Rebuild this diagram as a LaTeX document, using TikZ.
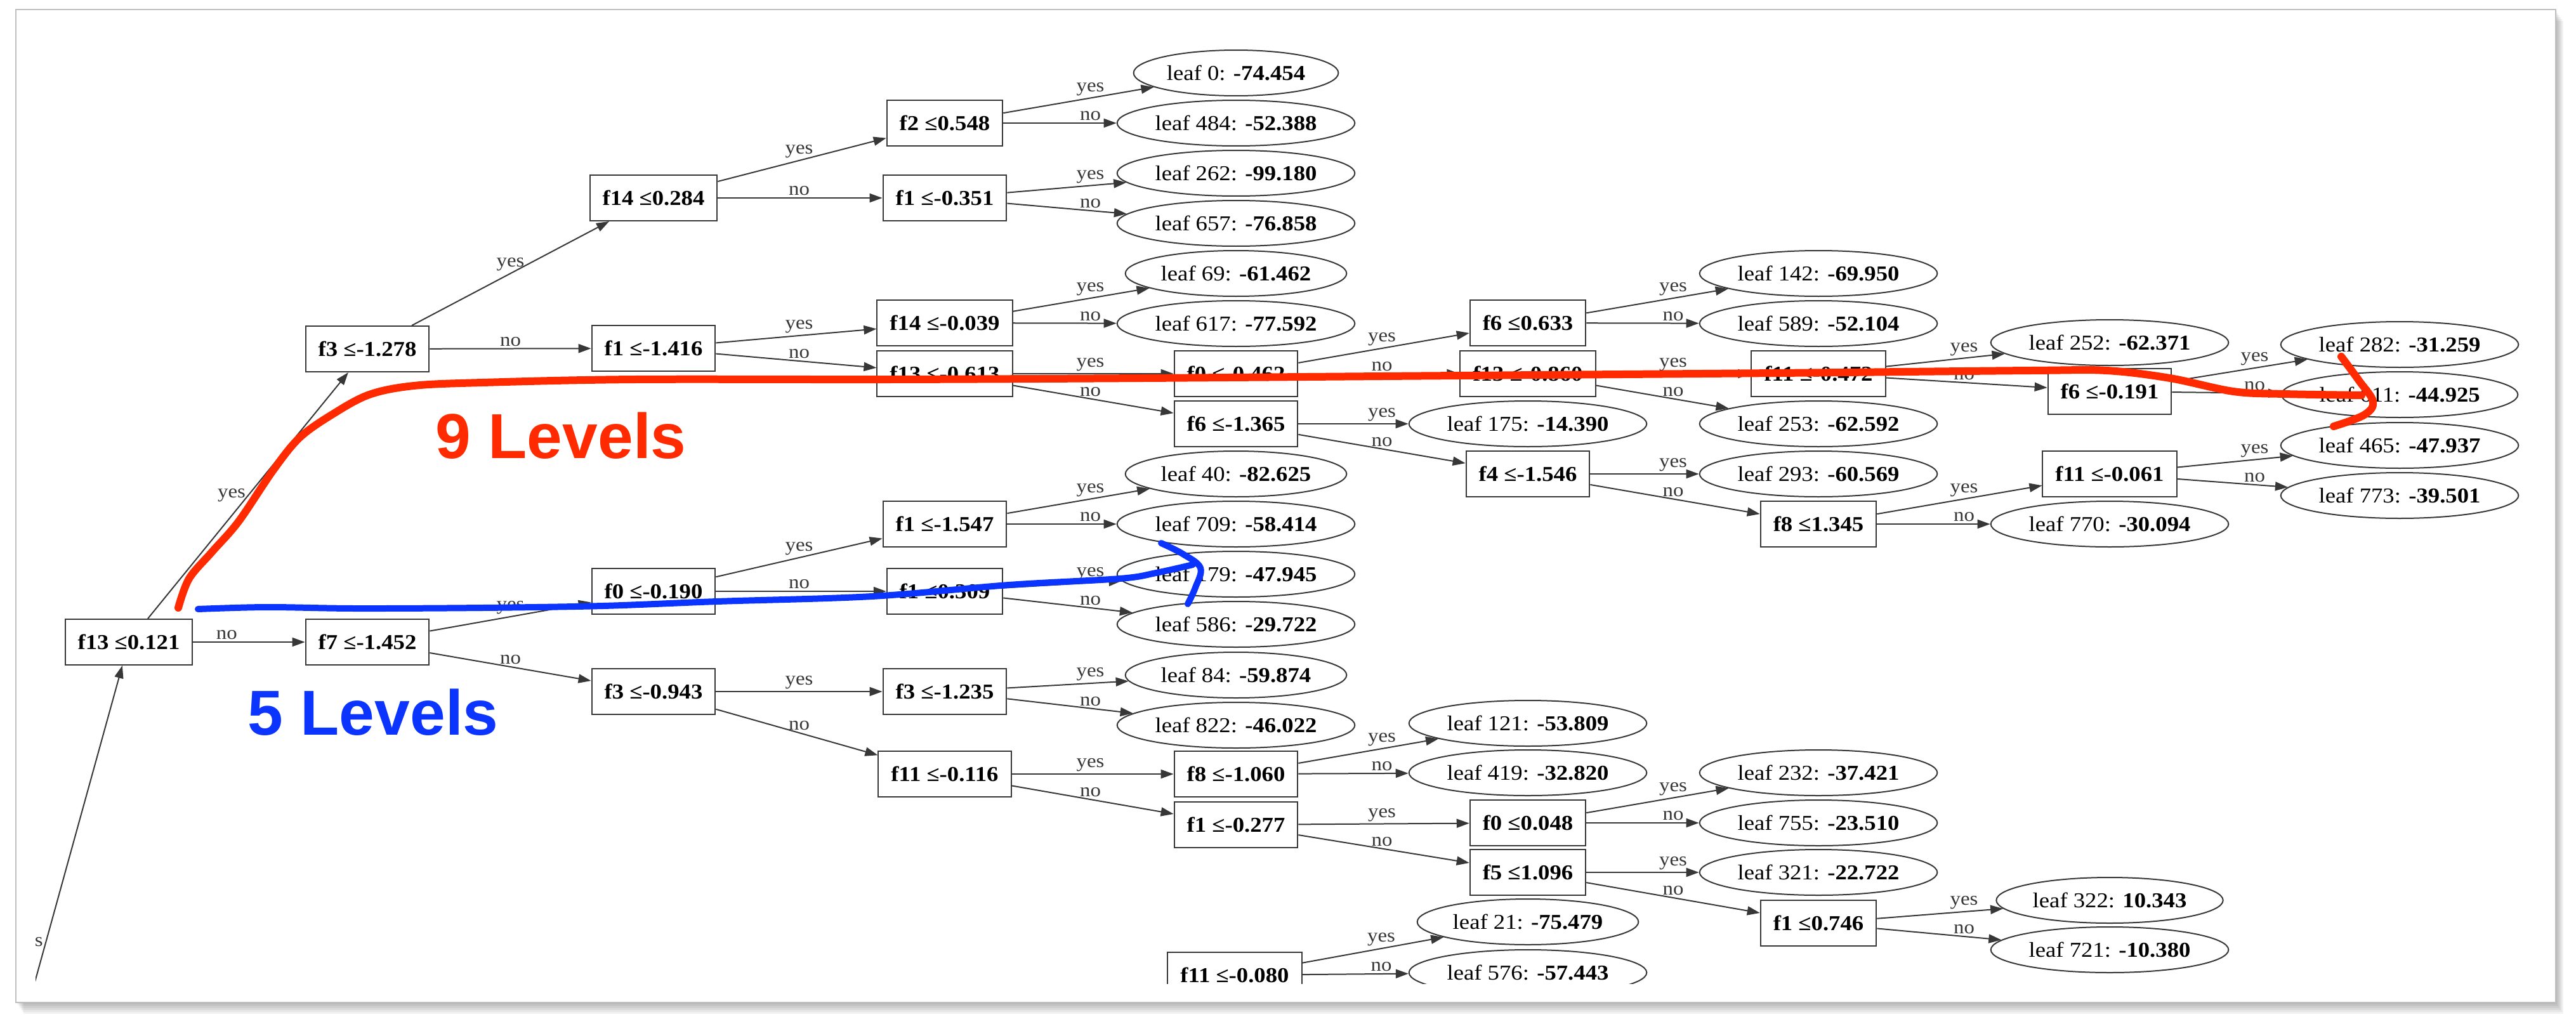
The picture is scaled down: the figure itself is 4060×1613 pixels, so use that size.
\documentclass[tikz,border=0pt]{standalone}
\usepackage{fontspec}
\setmainfont{Liberation Serif}
\newfontfamily\treefont[FakeStretch=1.1]{Liberation Serif}
\newfontfamily\notefont{Liberation Sans}
\usepackage{tikz}
\usetikzlibrary{shapes.geometric, arrows.meta, calc}
\definecolor{markred}{RGB}{255, 42, 0}
\definecolor{markblue}{RGB}{12, 52, 255}
\definecolor{treegray}{RGB}{55, 55, 55}
\newcommand{\leafval}[2]{leaf #1: \textbf{#2}}

\begin{document}
\begin{tikzpicture}[x=0.02cm, y=-0.02cm,
        decbox/.style={rectangle, draw=treegray, line width=0.04cm, minimum height=1.44cm, inner xsep=0.4cm, inner ysep=0pt, font=\treefont\fontsize{19}{21}\selectfont\bfseries},
        leafell/.style={ellipse, draw=treegray, line width=0.04cm, minimum height=1.44cm, inner xsep=0.1cm, inner ysep=0pt, font=\treefont\fontsize{19}{21}\selectfont},
        arr/.style={-{Triangle[length=0.4cm, width=0.28cm]}, line width=0.04cm, color=treegray},
        lbl/.style={font=\treefont\fontsize{17}{19}\selectfont, inner sep=0.06cm, text=treegray, anchor=south},
        marker/.style={line width=0.24cm, line cap=round, line join=round},
        levels/.style={anchor=base west, inner sep=0pt, font=\notefont\fontsize{57}{60}\selectfont\bfseries}
      ]
        \useasboundingbox (0,0) rectangle (4060,1613);
        % card with shadow
        \foreach \s in {1,...,6}
          \fill[black, opacity=0.05] (25+2*\s,15+3*\s) rectangle (4028+2*\s,1580+3*\s);
        \filldraw[fill=white, draw=black!25, line width=0.03cm] (25,15) rectangle (4028,1580);

        \begin{scope}
        \clip (56,20) rectangle (4015,1550);
        % split nodes
        \node[decbox] (root) at (203,1012) {f13 ≤0.121};
        \node[decbox] (f3a) at (579,550) {f3 ≤-1.278};
        \node[decbox] (f7a) at (579,1012) {f7 ≤-1.452};
        \node[decbox] (f14a) at (1030,312) {f14 ≤0.284};
        \node[decbox] (f1a) at (1030,549) {f1 ≤-1.416};
        \node[decbox] (f0a) at (1030,932) {f0 ≤-0.190};
        \node[decbox] (f3b) at (1030,1090) {f3 ≤-0.943};
        \node[decbox] (f2a) at (1489,194) {f2 ≤0.548};
        \node[decbox] (f1b) at (1489,312) {f1 ≤-0.351};
        \node[decbox] (f14b) at (1489,509) {f14 ≤-0.039};
        \node[decbox] (f13b) at (1489,589) {f13 ≤-0.613};
        \node[decbox] (f1c) at (1489,826) {f1 ≤-1.547};
        \node[decbox] (f1d) at (1489,932) {f1 ≤0.309};
        \node[decbox] (f3c) at (1489,1090) {f3 ≤-1.235};
        \node[decbox] (f11a) at (1489,1220) {f11 ≤-0.116};
        \node[decbox] (f0b) at (1948,589) {f0 ≤-0.462};
        \node[decbox] (f6a) at (1948,668) {f6 ≤-1.365};
        \node[decbox] (f8a) at (1948,1220) {f8 ≤-1.060};
        \node[decbox] (f1e) at (1948,1300) {f1 ≤-0.277};
        \node[decbox] (f11b) at (1946,1537) {f11 ≤-0.080};
        \node[decbox] (f6b) at (2408,509) {f6 ≤0.633};
        \node[decbox] (f13c) at (2408,589) {f13 ≤-0.860};
        \node[decbox] (f4a) at (2408,747) {f4 ≤-1.546};
        \node[decbox] (f0c) at (2408,1297) {f0 ≤0.048};
        \node[decbox] (f5a) at (2408,1375) {f5 ≤1.096};
        \node[decbox] (f11c) at (2866,589) {f11 ≤-0.472};
        \node[decbox] (f8b) at (2866,826) {f8 ≤1.345};
        \node[decbox] (f1f) at (2866,1455) {f1 ≤0.746};
        \node[decbox] (f6c) at (3325,617) {f6 ≤-0.191};
        \node[decbox] (f11d) at (3325,747) {f11 ≤-0.061};
        % leaves
        \node[leafell] (l0) at (1948,115) {\leafval{0}{-74.454}};
        \node[leafell] (l484) at (1948,194) {\leafval{484}{-52.388}};
        \node[leafell] (l262) at (1948,273) {\leafval{262}{-99.180}};
        \node[leafell] (l657) at (1948,352) {\leafval{657}{-76.858}};
        \node[leafell] (l69) at (1948,431) {\leafval{69}{-61.462}};
        \node[leafell] (l617) at (1948,510) {\leafval{617}{-77.592}};
        \node[leafell] (l40) at (1948,747) {\leafval{40}{-82.625}};
        \node[leafell] (l709) at (1948,826) {\leafval{709}{-58.414}};
        \node[leafell] (l179) at (1948,905) {\leafval{179}{-47.945}};
        \node[leafell] (l586) at (1948,984) {\leafval{586}{-29.722}};
        \node[leafell] (l84) at (1948,1064) {\leafval{84}{-59.874}};
        \node[leafell] (l822) at (1948,1143) {\leafval{822}{-46.022}};
        \node[leafell] (l175) at (2408,668) {\leafval{175}{-14.390}};
        \node[leafell] (l121) at (2408,1140) {\leafval{121}{-53.809}};
        \node[leafell] (l419) at (2408,1218) {\leafval{419}{-32.820}};
        \node[leafell] (l21) at (2408,1453) {\leafval{21}{-75.479}};
        \node[leafell] (l576) at (2408,1533) {\leafval{576}{-57.443}};
        \node[leafell] (l142) at (2866,431) {\leafval{142}{-69.950}};
        \node[leafell] (l589) at (2866,510) {\leafval{589}{-52.104}};
        \node[leafell] (l253) at (2866,668) {\leafval{253}{-62.592}};
        \node[leafell] (l293) at (2866,747) {\leafval{293}{-60.569}};
        \node[leafell] (l232) at (2866,1218) {\leafval{232}{-37.421}};
        \node[leafell] (l755) at (2866,1297) {\leafval{755}{-23.510}};
        \node[leafell] (l321) at (2866,1375) {\leafval{321}{-22.722}};
        \node[leafell] (l252) at (3325,540) {\leafval{252}{-62.371}};
        \node[leafell] (l770) at (3325,826) {\leafval{770}{-30.094}};
        \node[leafell] (l322) at (3325,1419) {\leafval{322}{10.343}};
        \node[leafell] (l721) at (3325,1497) {\leafval{721}{-10.380}};
        \node[leafell] (l282) at (3782,543) {\leafval{282}{-31.259}};
        \node[leafell] (l611) at (3782,622) {\leafval{611}{-44.925}};
        \node[leafell] (l465) at (3782,702) {\leafval{465}{-47.937}};
        \node[leafell] (l773) at (3782,781) {\leafval{773}{-39.501}};
        % edges, labels sit halfway between the node centres
        \coordinate (rootin) at (51,1562);
        \draw[arr] (rootin) -- node[lbl, pos=0.145, anchor=east] {yes} (root);
        \draw[arr] (root) -- node[lbl, anchor=east, pos=0.5] {yes} (f3a);
        \draw[arr] (root) -- node[lbl, pos=0.3] {no} (f7a);
        \draw[arr] (f3a) -- (f14a) node[lbl] at ($(f3a)!.5!(f14a)$) {yes};
        \draw[arr] (f3a) -- (f1a) node[lbl] at ($(f3a)!.5!(f1a)$) {no};
        \draw[arr] (f7a) -- (f0a) node[lbl] at ($(f7a)!.5!(f0a)$) {yes};
        \draw[arr] (f7a) -- (f3b) node[lbl] at ($(f7a)!.5!(f3b)$) {no};
        \draw[arr] (f14a) -- (f2a) node[lbl] at ($(f14a)!.5!(f2a)$) {yes};
        \draw[arr] (f14a) -- (f1b) node[lbl] at ($(f14a)!.5!(f1b)$) {no};
        \draw[arr] (f2a) -- (l0) node[lbl] at ($(f2a)!.5!(l0)$) {yes};
        \draw[arr] (f2a) -- (l484) node[lbl] at ($(f2a)!.5!(l484)$) {no};
        \draw[arr] (f1b) -- (l262) node[lbl] at ($(f1b)!.5!(l262)$) {yes};
        \draw[arr] (f1b) -- (l657) node[lbl] at ($(f1b)!.5!(l657)$) {no};
        \draw[arr] (f1a) -- (f14b) node[lbl] at ($(f1a)!.5!(f14b)$) {yes};
        \draw[arr] (f1a) -- (f13b) node[lbl] at ($(f1a)!.5!(f13b)$) {no};
        \draw[arr] (f14b) -- (l69) node[lbl] at ($(f14b)!.5!(l69)$) {yes};
        \draw[arr] (f14b) -- (l617) node[lbl] at ($(f14b)!.5!(l617)$) {no};
        \draw[arr] (f13b) -- (f0b) node[lbl] at ($(f13b)!.5!(f0b)$) {yes};
        \draw[arr] (f13b) -- (f6a) node[lbl] at ($(f13b)!.5!(f6a)$) {no};
        \draw[arr] (f0b) -- (f6b) node[lbl] at ($(f0b)!.5!(f6b)$) {yes};
        \draw[arr] (f0b) -- (f13c) node[lbl] at ($(f0b)!.5!(f13c)$) {no};
        \draw[arr] (f6b) -- (l142) node[lbl] at ($(f6b)!.5!(l142)$) {yes};
        \draw[arr] (f6b) -- (l589) node[lbl] at ($(f6b)!.5!(l589)$) {no};
        \draw[arr] (f13c) -- (f11c) node[lbl] at ($(f13c)!.5!(f11c)$) {yes};
        \draw[arr] (f13c) -- (l253) node[lbl] at ($(f13c)!.5!(l253)$) {no};
        \draw[arr] (f11c) -- (l252) node[lbl] at ($(f11c)!.5!(l252)$) {yes};
        \draw[arr] (f11c) -- (f6c) node[lbl] at ($(f11c)!.5!(f6c)$) {no};
        \draw[arr] (f6c) -- (l282) node[lbl] at ($(f6c)!.5!(l282)$) {yes};
        \draw[arr] (f6c) -- (l611) node[lbl] at ($(f6c)!.5!(l611)$) {no};
        \draw[arr] (f6a) -- (l175) node[lbl] at ($(f6a)!.5!(l175)$) {yes};
        \draw[arr] (f6a) -- (f4a) node[lbl] at ($(f6a)!.5!(f4a)$) {no};
        \draw[arr] (f4a) -- (l293) node[lbl] at ($(f4a)!.5!(l293)$) {yes};
        \draw[arr] (f4a) -- (f8b) node[lbl] at ($(f4a)!.5!(f8b)$) {no};
        \draw[arr] (f8b) -- (f11d) node[lbl] at ($(f8b)!.5!(f11d)$) {yes};
        \draw[arr] (f8b) -- (l770) node[lbl] at ($(f8b)!.5!(l770)$) {no};
        \draw[arr] (f11d) -- (l465) node[lbl] at ($(f11d)!.5!(l465)$) {yes};
        \draw[arr] (f11d) -- (l773) node[lbl] at ($(f11d)!.5!(l773)$) {no};
        \draw[arr] (f0a) -- (f1c) node[lbl] at ($(f0a)!.5!(f1c)$) {yes};
        \draw[arr] (f0a) -- (f1d) node[lbl] at ($(f0a)!.5!(f1d)$) {no};
        \draw[arr] (f1c) -- (l40) node[lbl] at ($(f1c)!.5!(l40)$) {yes};
        \draw[arr] (f1c) -- (l709) node[lbl] at ($(f1c)!.5!(l709)$) {no};
        \draw[arr] (f1d) -- (l179) node[lbl] at ($(f1d)!.5!(l179)$) {yes};
        \draw[arr] (f1d) -- (l586) node[lbl] at ($(f1d)!.5!(l586)$) {no};
        \draw[arr] (f3b) -- (f3c) node[lbl] at ($(f3b)!.5!(f3c)$) {yes};
        \draw[arr] (f3b) -- (f11a) node[lbl] at ($(f3b)!.5!(f11a)$) {no};
        \draw[arr] (f3c) -- (l84) node[lbl] at ($(f3c)!.5!(l84)$) {yes};
        \draw[arr] (f3c) -- (l822) node[lbl] at ($(f3c)!.5!(l822)$) {no};
        \draw[arr] (f11a) -- (f8a) node[lbl] at ($(f11a)!.5!(f8a)$) {yes};
        \draw[arr] (f11a) -- (f1e) node[lbl] at ($(f11a)!.5!(f1e)$) {no};
        \draw[arr] (f8a) -- (l121) node[lbl] at ($(f8a)!.5!(l121)$) {yes};
        \draw[arr] (f8a) -- (l419) node[lbl] at ($(f8a)!.5!(l419)$) {no};
        \draw[arr] (f1e) -- (f0c) node[lbl] at ($(f1e)!.5!(f0c)$) {yes};
        \draw[arr] (f1e) -- (f5a) node[lbl] at ($(f1e)!.5!(f5a)$) {no};
        \draw[arr] (f0c) -- (l232) node[lbl] at ($(f0c)!.5!(l232)$) {yes};
        \draw[arr] (f0c) -- (l755) node[lbl] at ($(f0c)!.5!(l755)$) {no};
        \draw[arr] (f5a) -- (l321) node[lbl] at ($(f5a)!.5!(l321)$) {yes};
        \draw[arr] (f5a) -- (f1f) node[lbl] at ($(f5a)!.5!(f1f)$) {no};
        \draw[arr] (f1f) -- (l322) node[lbl] at ($(f1f)!.5!(l322)$) {yes};
        \draw[arr] (f1f) -- (l721) node[lbl] at ($(f1f)!.5!(l721)$) {no};
        \draw[arr] (f11b) -- (l21) node[lbl] at ($(f11b)!.5!(l21)$) {yes};
        \draw[arr] (f11b) -- (l576) node[lbl] at ($(f11b)!.5!(l576)$) {no};
        \end{scope}

        % hand-drawn marks
        \draw[marker, markred] plot[smooth, tension=0.55] coordinates {(281,958) (298,912) (334,870) (376,822) (430,742) (472,690) (524,653) (582,622) (652,608) (760,603) (1000,598) (1400,598) (1800,596) (2300,592) (2800,588) (3200,584) (3320,584) (3420,596) (3520,617) (3600,621) (3722,623)};
        \draw[marker, markred] plot[smooth, tension=0.6] coordinates {(3690,562) (3718,600) (3740,633) (3726,654) (3678,672)};
        \draw[marker, markblue, line width=0.2cm] plot[smooth, tension=0.55] coordinates {(312,960) (420,957) (560,959) (760,958) (950,955) (1130,948) (1374,940) (1590,922) (1765,912) (1822,903) (1880,890)};
        \draw[marker, markblue, line width=0.2cm] plot[smooth, tension=0.6] coordinates {(1830,856) (1864,873) (1892,895) (1884,926) (1872,952)};
        \node[levels, text=markred] (ninelbl) at (686,722) {9 Levels};
        \node[levels, text=markblue] (fivelbl) at (390,1158) {5 Levels};
      \end{tikzpicture}
\end{document}
